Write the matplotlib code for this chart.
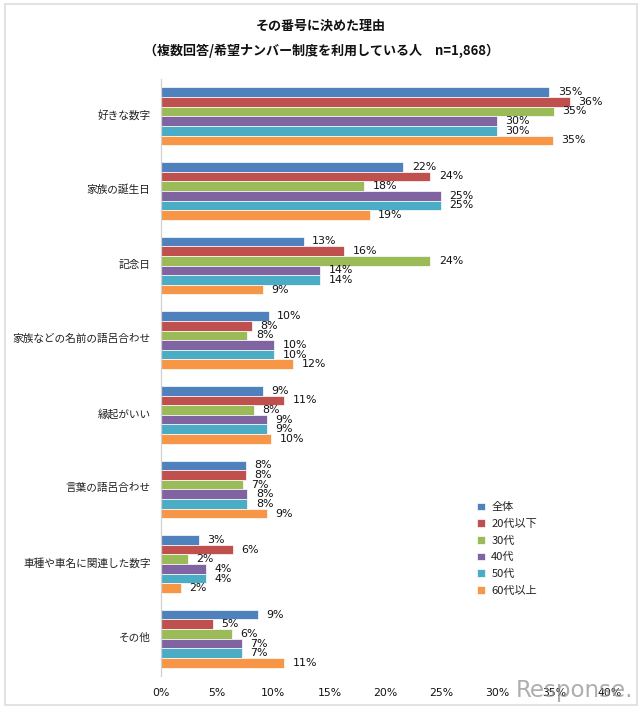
import numpy as np
import matplotlib
matplotlib.use("Agg")
import matplotlib.pyplot as plt
from matplotlib.patches import Rectangle
from matplotlib.transforms import ScaledTranslation

FONT = ['Noto Sans CJK JP', 'DejaVu Sans']
plt.rcParams['font.family'] = FONT

categories = ['好きな数字', '家族の誕生日', '記念日', '家族などの名前の語呂合わせ',
              '縁起がいい', '言葉の語呂合わせ', '車種や車名に関連した数字', 'その他']
series_names = ['全体', '20代以下', '30代', '40代', '50代', '60代以上']
colors = ['#4F81BD', '#C0504D', '#9BBB59', '#8064A2', '#4BACC6', '#F79646']
all_ages = [34.6, 21.6, 12.7, 9.6, 9.1, 7.6, 3.4, 8.6]
under20 = [36.4, 24.0, 16.3, 8.1, 11.0, 7.6, 6.4, 4.6]
age30 = [35.0, 18.1, 24.0, 7.7, 8.3, 7.3, 2.4, 6.3]
age40 = [29.9, 24.9, 14.2, 10.1, 9.4, 7.7, 4.0, 7.2]
age50 = [29.9, 24.9, 14.2, 10.1, 9.4, 7.7, 4.0, 7.2]
over60 = [34.9, 18.6, 9.1, 11.8, 9.8, 9.4, 1.8, 11.0]
series = [all_ages, under20, age30, age40, age50, over60]
xticks = [0, 5, 10, 15, 20, 25, 30, 35, 40]

W, H = 640, 710
fig = plt.figure(figsize=(W / 100, H / 100), dpi=100, facecolor='white')
fig.add_artist(Rectangle((5 / W, 1 - 705 / H), 632 / W, 701 / H, transform=fig.transFigure,
                         fill=False, edgecolor='#DDDDDD', linewidth=1.2))
ax = fig.add_axes([161 / W, 1 - 676 / H, 449 / W, 597 / H])

pitch = 0.129
y = np.arange(len(categories))
for i, (name, vals, c) in enumerate(zip(series_names, series, colors)):
    bars = ax.barh(y + (i - 2.5) * pitch, vals, height=pitch, color=c, label=name,
                   edgecolor='#FFFFFF', linewidth=0.5)
    ax.bar_label(bars, fmt=lambda v: f'{v:.0f}%', padding=6, fontsize=7.9,
                 color='#111111', family=['DejaVu Sans'])

ax.set_xlim(0, 40)
ax.set_ylim(len(categories) - 0.5, -0.5)
ax.set_yticks(y, categories, fontsize=7.7, color='#222222')
ax.set_xticks(xticks, [f'{t}%' for t in xticks], fontsize=7.8, color='#111111', family=['DejaVu Sans'])
ax.tick_params(axis='y', length=0, pad=7.5)
ax.tick_params(axis='x', length=0, pad=9)
shift = ScaledTranslation(0, 2 / 100, fig.dpi_scale_trans)
for lab in ax.get_yticklabels():
    lab.set_transform(lab.get_transform() + shift)
for s in ['top', 'right', 'bottom']:
    ax.spines[s].set_visible(False)
ax.spines['left'].set_color('#D0D0D0')
ax.spines['left'].set_linewidth(0.9)

fig.text(321 / W, 1 - 26 / H, 'その番号に決めた理由', ha='center', va='center',
         fontsize=9.4, fontweight='bold', color='#111111')
fig.text(321 / W, 1 - 50.5 / H, '（複数回答/希望ナンバー制度を利用している人　n=1,868）', ha='center', va='center',
         fontsize=9.4, fontweight='bold', color='#111111')

leg = fig.legend(loc='upper left', bbox_to_anchor=(474 / W, 1 - 499 / H), frameon=False,
                 fontsize=8.0, handlelength=0.7, handleheight=0.7, handletextpad=0.55,
                 labelspacing=0.6, borderpad=0.3, borderaxespad=0)
for t in leg.get_texts():
    t.set_color('#222222')

fig.text(575 / W, 1 - 691 / H, 'Response.', ha='center', va='center', fontsize=16.5,
         color='#8C8C8C', alpha=0.7, family=['DejaVu Sans'])

fig.savefig('out.png', dpi=100)
